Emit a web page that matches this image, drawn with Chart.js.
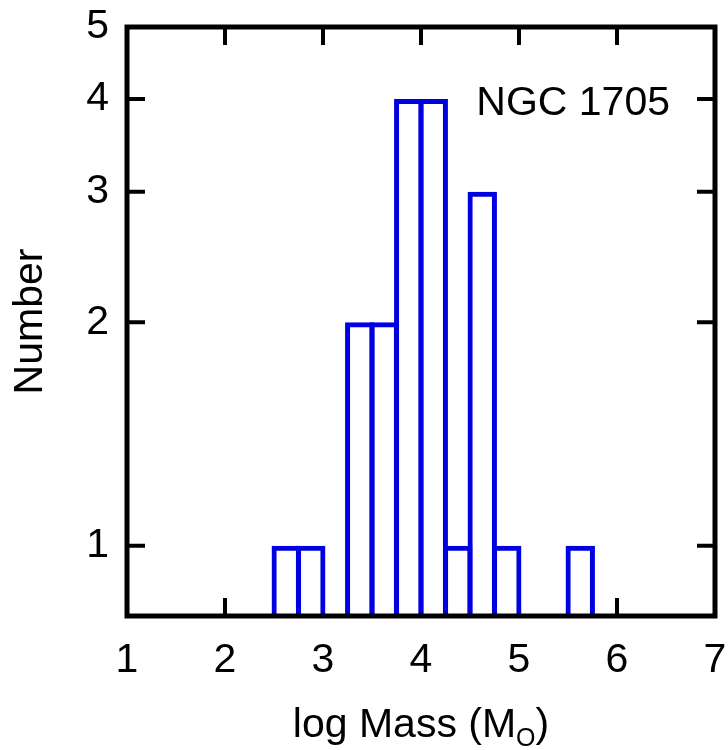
<!DOCTYPE html>
<html>
<head>
<meta charset="utf-8">
<script src="https://cdn.jsdelivr.net/npm/chart.js@4/dist/chart.umd.min.js"></script>
<style>
  html, body { margin: 0; padding: 0; background: #fff; }
  #wrap { width: 728px; height: 750px; position: relative; }
</style>
</head>
<body>
<div id="wrap"><canvas id="c"></canvas></div>
<script>
// ---- data ----
const binStarts = [2.5, 2.75, 3.25, 3.5, 3.75, 4.0, 4.25, 4.5, 4.75, 5.5];
const counts    = [1,   1,    2,    2,   4,    4,   1,    3,   1,    1];
const binWidth  = 0.25;
const xTickValues = [1, 2, 3, 4, 5, 6, 7];
const yTickValues = [1, 2, 3, 4, 5];
const xTitleMain = 'log Mass (M';
const xTitleSub  = 'O';
const xTitleEnd  = ')';
const yTitle = 'Number';
const label = 'NGC 1705';

const FONT = '"Liberation Sans", Arial, Helvetica, sans-serif';
const FS = 41;
const BLUE = '#0000e0';

const framePlugin = {
  id: 'frame',
  beforeDatasetsDraw(chart) {
    const { ctx, chartArea: a, scales: { x, y } } = chart;
    ctx.save();
    ctx.strokeStyle = '#000';
    ctx.lineCap = 'butt';
    ctx.lineWidth = 4;
    const L = 18;
    ctx.beginPath();
    x.ticks.forEach(t => {
      const px = x.getPixelForValue(t.value);
      ctx.moveTo(px, a.bottom); ctx.lineTo(px, a.bottom - L);
      ctx.moveTo(px, a.top); ctx.lineTo(px, a.top + L);
    });
    y.ticks.forEach(t => {
      const py = y.getPixelForValue(t.value);
      ctx.moveTo(a.left, py); ctx.lineTo(a.left + L, py);
      ctx.moveTo(a.right, py); ctx.lineTo(a.right - L, py);
    });
    ctx.stroke();
    ctx.restore();
  },
  afterDatasetsDraw(chart) {
    const { ctx, chartArea: a, scales: { x, y } } = chart;
    ctx.save();
    ctx.strokeStyle = '#000';
    ctx.lineWidth = 5;
    ctx.strokeRect(a.left, a.top, a.right - a.left, a.bottom - a.top);

    // label
    ctx.fillStyle = '#000';
    ctx.font = FS + 'px ' + FONT;
    ctx.textAlign = 'right';
    ctx.textBaseline = 'alphabetic';
    ctx.fillText(label, a.right - 45, y.getPixelForValue(4) + 16);

    // x title with subscript
    ctx.textAlign = 'left';
    const mainW = ctx.measureText(xTitleMain).width;
    const endW = ctx.measureText(xTitleEnd).width;
    ctx.font = '25px ' + FONT;
    const subW = ctx.measureText(xTitleSub).width;
    const total = mainW + subW + endW;
    const cx = (a.left + a.right) / 2;
    let sx = cx - total / 2;
    const base = 737;
    ctx.font = FS + 'px ' + FONT;
    ctx.fillText(xTitleMain, sx, base);
    sx += mainW;
    ctx.font = '25px ' + FONT;
    ctx.fillText(xTitleSub, sx, base + 9);
    sx += subW;
    ctx.font = FS + 'px ' + FONT;
    ctx.fillText(xTitleEnd, sx, base);
    ctx.restore();
  }
};

new Chart(document.getElementById('c'), {
  type: 'bar',
  data: {
    datasets: [{
      data: binStarts.map((s, i) => ({ x: s + binWidth / 2, y: counts[i] })),
      backgroundColor: 'rgba(0,0,0,0)',
      borderColor: BLUE,
      borderWidth: 5,
      borderSkipped: 'start',
      barPercentage: 1.2,
      categoryPercentage: 1.0
    }]
  },
  options: {
    responsive: true,
    maintainAspectRatio: false,
    animation: false,
    layout: { padding: { top: 27, right: 13, left: 0, bottom: 0 } },
    plugins: { legend: { display: false }, tooltip: { enabled: false } },
    scales: {
      x: {
        type: 'linear',
        min: 1, max: 7,
        offset: false,
        grid: { display: false, drawTicks: false },
        border: { display: false },
        afterBuildTicks(scale) { scale.ticks = xTickValues.map(v => ({ value: v })); },
        ticks: {
          color: '#000',
          font: { family: FONT, size: FS },
          padding: 20,
          maxRotation: 0,
          autoSkip: false,
          callback: v => String(v)
        },
        afterFit(scale) {
          scale.height = 134;
          scale.paddingLeft = 0; scale.paddingRight = 0;
        }
      },
      y: {
        type: 'logarithmic',
        min: 0.804, max: 5,
        grid: { display: false, drawTicks: false },
        border: { display: false },
        afterBuildTicks(scale) { scale.ticks = yTickValues.map(v => ({ value: v })); },
        ticks: {
          color: '#000',
          font: { family: FONT, size: FS },
          padding: 18,
          autoSkip: false,
          callback: v => String(v)
        },
        title: {
          display: true,
          text: yTitle,
          color: '#000',
          font: { family: FONT, size: FS },
          padding: { top: 6, bottom: 0 }
        },
        afterFit(scale) {
          scale.width = 127;
          scale.paddingTop = 0; scale.paddingBottom = 0;
        }
      }
    }
  },
  plugins: [framePlugin]
});
</script>
</body>
</html>
